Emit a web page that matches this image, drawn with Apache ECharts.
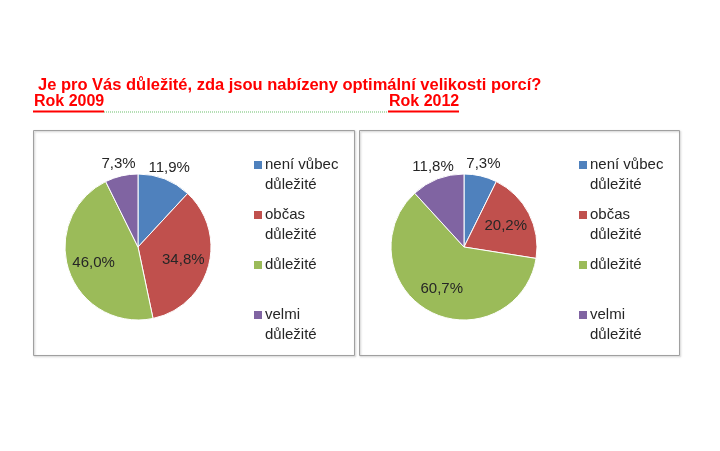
<!DOCTYPE html>
<html>
<head>
<meta charset="utf-8">
<script src="https://cdn.jsdelivr.net/npm/echarts@6/dist/echarts.min.js"></script>
<style>html,body{margin:0;padding:0;background:#fff;}#c{width:720px;height:451px;}</style>
</head>
<body>
<div id="c"></div>
<script>
const categories = ['není vůbec\ndůležité', 'občas\ndůležité', 'důležité', 'velmi\ndůležité'];
const values2009 = [11.9, 34.8, 46.0, 7.3];
const values2012 = [7.3, 20.2, 60.7, 11.8];
const colors = ['#4F81BD', '#C0504D', '#9BBB59', '#8064A2'];
const titleText = 'Je pro Vás důležité, zda jsou nabízeny optimální velikosti porcí?';
const yearLabels = ['Rok 2009', 'Rok 2012'];

const FONT = 'Liberation Sans, Arial, sans-serif';
const fmt = v => v.toFixed(1).replace('.', ',') + '%';

const rich = { t: { fontSize: 15, color: '#262626', fontFamily: FONT, lineHeight: 20 }, p: { width: 11, height: 8 }, g: { width: 3 } };
colors.forEach((c, i) => { rich['m' + i] = { width: 8, height: 8, backgroundColor: c }; });

function legendFormatter(name) {
  const i = categories.indexOf(name);
  const lines = name.split('\n');
  let s = '{m' + i + '|}{g|}{t|' + lines[0] + '}';
  if (lines[1]) s += '\n{p|}{t|' + lines[1] + '}';
  else s += '\n{t| }';
  return s;
}

function makeLegend(left) {
  return {
    orient: 'vertical', left: left, top: 155, itemGap: 10, padding: 0,
    itemWidth: 0, itemHeight: 0, icon: 'rect', selectedMode: false,
    data: categories, formatter: legendFormatter,
    textStyle: { rich: rich, lineHeight: 20 }
  };
}

function pieSeries(values, cx) {
  const data = values.map((v, i) => ({ name: categories[i], value: v }));
  const base = {
    type: 'pie', center: [cx, 247], startAngle: 90, clockwise: true,
    avoidLabelOverlap: false, animation: false, silent: true,
    labelLine: { show: false }
  };
  return [
    Object.assign({}, base, {
      radius: 73,
      itemStyle: { color: p => colors[p.dataIndex], borderColor: '#fff', borderWidth: 1 },
      label: { show: false },
      data: data
    }),
    Object.assign({}, base, {
      radius: [0, 88],
      itemStyle: { color: 'rgba(0,0,0,0)' },
      label: { position: 'inside', fontSize: 15, color: '#262626', fontFamily: FONT,
        formatter: p => p.value >= 15 ? fmt(p.value) : '' },
      data: data
    }),
    Object.assign({}, base, {
      radius: [70, 95],
      itemStyle: { color: 'rgba(0,0,0,0)' },
      label: { position: 'inside', fontSize: 15, color: '#262626', fontFamily: FONT,
        formatter: p => p.value < 15 ? fmt(p.value) : '' },
      data: data
    })
  ];
}

const chart = echarts.init(document.getElementById('c'), null, { renderer: 'canvas' });
const titleStyle = size => ({ color: '#FF0000', fontSize: size, fontWeight: 'bold', fontFamily: FONT });
chart.setOption({
  backgroundColor: '#fff',
  title: [
    { text: titleText, left: 38, top: 77, padding: 0, textStyle: titleStyle(16.5) },
    { text: yearLabels[0], left: 34, top: 94, padding: 0, textStyle: titleStyle(16) },
    { text: yearLabels[1], left: 389, top: 94, padding: 0, textStyle: titleStyle(16) }
  ],
  legend: [makeLegend(248), makeLegend(573)],
  graphic: [
    { type: 'line', shape: { x1: 33, y1: 111.5, x2: 104, y2: 111.5 }, style: { stroke: '#FF0000', lineWidth: 2 } },
    { type: 'line', shape: { x1: 104, y1: 112, x2: 388, y2: 112 }, style: { stroke: '#6CC06C', lineWidth: 1, lineDash: [1, 1] } },
    { type: 'line', shape: { x1: 388, y1: 111.5, x2: 459, y2: 111.5 }, style: { stroke: '#FF0000', lineWidth: 2 } },
    { type: 'rect', shape: { x: 33.5, y: 130.5, width: 321, height: 225 }, style: { fill: 'none', stroke: '#A0A0A0', lineWidth: 1, shadowColor: 'rgba(0,0,0,0.25)', shadowBlur: 2, shadowOffsetX: 1, shadowOffsetY: 1 }, z: -1 },
    { type: 'rect', shape: { x: 359.5, y: 130.5, width: 320, height: 225 }, style: { fill: 'none', stroke: '#A0A0A0', lineWidth: 1, shadowColor: 'rgba(0,0,0,0.25)', shadowBlur: 2, shadowOffsetX: 1, shadowOffsetY: 1 }, z: -1 }
  ],
  series: [].concat(pieSeries(values2009, 138), pieSeries(values2012, 464))
});
</script>
</body>
</html>
